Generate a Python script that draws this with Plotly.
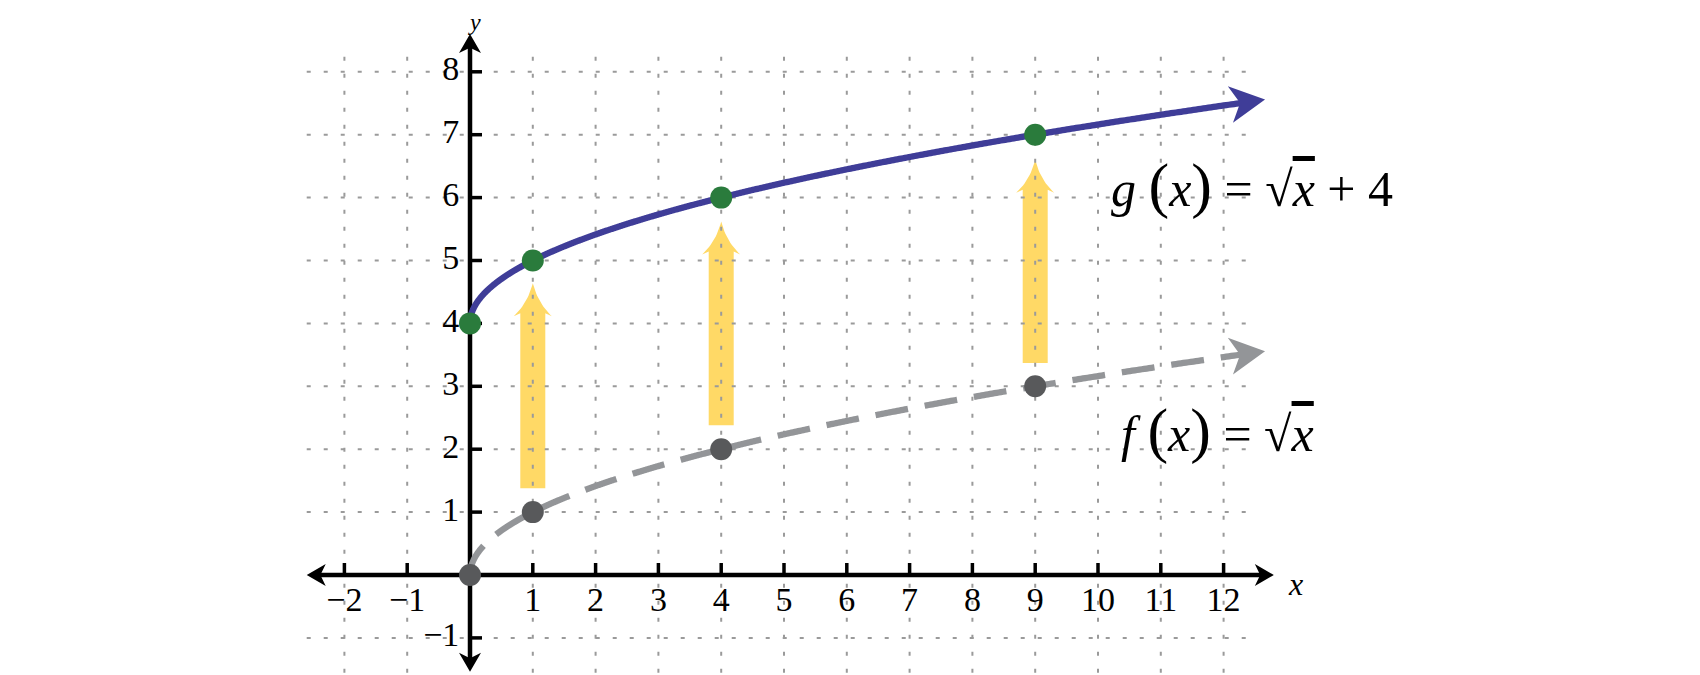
import numpy as np
import plotly.graph_objects as go

# ---------------- data ----------------
point_x = [0, 1, 4, 9]
f_vals = [0, 1, 2, 3]          # f(x) = sqrt(x)
g_vals = [4, 5, 6, 7]          # g(x) = sqrt(x) + 4
shift_k = 4
arrow_x = [1, 4, 9]
arrow_from = [1.38, 2.38, 3.37]
arrow_to = [4.64, 5.62, 6.60]
x_ticks = [-2, -1, 1, 2, 3, 4, 5, 6, 7, 8, 9, 10, 11, 12]
x_tick_text = ["\u22122", "\u22121", "1", "2", "3", "4", "5", "6", "7", "8", "9", "10", "11", "12"]
y_ticks = [-1, 1, 2, 3, 4, 5, 6, 7, 8]
y_tick_text = ["\u22121", "1", "2", "3", "4", "5", "6", "7", "8"]
grid_x = [-2, -1, 1, 2, 3, 4, 5, 6, 7, 8, 9, 10, 11, 12]
grid_y = [-1, 1, 2, 3, 4, 5, 6, 7, 8]
curve_end = 12.66
x_axis_span = [-2.6, 12.8]
y_axis_span = [-1.54, 8.6]
grid_x_span = [-2.6, 12.55]
grid_y_span = [-1.7, 8.24]

# ---------------- geometry ----------------
W, H = 1700, 675
OFF = 8  # default page margin of the html body
X0PX, Y0PX = 470 - OFF, 575 - OFF
SX, SY = 62.8, 62.9
xr = [-X0PX / SX, (W - X0PX) / SX]
yr = [-(H - Y0PX) / SY, Y0PX / SY]

def px(x, y):
    return np.array([X0PX + SX * x, Y0PX - SY * y])

def dat(p):
    return (p[0] - X0PX) / SX, (Y0PX - p[1]) / SY

def poly(points):
    xs, ys = [], []
    for p in points:
        a, b = dat(p)
        xs.append(a); ys.append(b)
    xs.append(xs[0]); ys.append(ys[0])
    return xs, ys

def head_pts(T, u, L, Wd, notch):
    n = np.array([-u[1], u[0]])
    return [T, T - L * u + Wd / 2 * n, T - notch * L * u, T - L * u - Wd / 2 * n]

def f(x):
    return np.sqrt(x)

def g(x):
    return np.sqrt(x) + shift_k

FONT = "Liberation Serif, serif"
fig = go.Figure()

# yellow arrows (under grid)
def qbez(p0, c, p1, n=16):
    t = np.linspace(0, 1, n)[:, None]
    return list((1 - t) ** 2 * p0 + 2 * (1 - t) * t * c + t ** 2 * p1)

for ax_, a0, a1 in zip(arrow_x, arrow_from, arrow_to):
    B = px(ax_, a0); T = px(ax_, a1)
    hs, hh, hl = 12.5, 19.0, 33.0
    pts = [np.array([T[0] - hs, B[1]]), np.array([T[0] - hs, T[1] + hl - 3]),
           np.array([T[0] - hh, T[1] + hl])]
    pts += qbez(np.array([T[0] - hh, T[1] + hl]), np.array([T[0] - 5, T[1] + 20]), T)[1:]
    pts += qbez(T, np.array([T[0] + 5, T[1] + 20]), np.array([T[0] + hh, T[1] + hl]))[1:]
    pts += [np.array([T[0] + hs, T[1] + hl - 3]), np.array([T[0] + hs, B[1]])]
    xs, ys = poly(pts)
    fig.add_trace(go.Scatter(x=xs, y=ys, mode="lines", fill="toself", fillcolor="#FFD966",
                             line=dict(width=0, color="#FFD966"), hoverinfo="skip", showlegend=False))

# grid
gx, gy = [], []
for v in grid_y:
    gx += [grid_x_span[0], grid_x_span[1], None]; gy += [v, v, None]
for v in grid_x:
    gx += [v, v, None]; gy += [grid_y_span[1], grid_y_span[0], None]
fig.add_trace(go.Scatter(x=gx, y=gy, mode="lines",
                         line=dict(color="#9A9A9A", width=2, dash="4px,13px"),
                         hoverinfo="skip", showlegend=False))

# axes
fig.add_trace(go.Scatter(x=[x_axis_span[0] + 0.15, x_axis_span[1] - 0.15, None, 0, 0],
                         y=[0, 0, None, y_axis_span[0] + 0.15, y_axis_span[1] - 0.15],
                         mode="lines", line=dict(color="black", width=4.5),
                         hoverinfo="skip", showlegend=False))
tx_, ty_ = [], []
for t in x_ticks:
    tx_ += [t, t, None]; ty_ += [0, 12 / SY, None]
for t in y_ticks:
    tx_ += [0, 12 / SX, None]; ty_ += [t, t, None]
fig.add_trace(go.Scatter(x=tx_, y=ty_, mode="lines", line=dict(color="black", width=3.5),
                         hoverinfo="skip", showlegend=False))
for T, u in [(px(x_axis_span[0], 0), np.array([-1.0, 0])), (px(x_axis_span[1], 0), np.array([1.0, 0])),
             (px(0, y_axis_span[1]), np.array([0, -1.0])), (px(0, y_axis_span[0]), np.array([0, 1.0]))]:
    xs, ys = poly(head_pts(T, u, 19, 22, 0.72))
    fig.add_trace(go.Scatter(x=xs, y=ys, mode="lines", fill="toself", fillcolor="black",
                             line=dict(width=0, color="black"), hoverinfo="skip", showlegend=False))

# curves with arrowheads
def curve(fn, color, dash, L=35, Wd=37):
    h = 1e-3
    T = px(curve_end, fn(curve_end))
    d = T - px(curve_end - h, fn(curve_end - h))
    u = d / np.linalg.norm(d)
    x_end = curve_end - 0.6 * L * u[0] / SX
    xs = np.linspace(0, np.sqrt(x_end), 600) ** 2
    fig.add_trace(go.Scatter(x=xs, y=fn(xs), mode="lines",
                             line=dict(color=color, width=6.3, dash=dash, simplify=False),
                             hoverinfo="skip", showlegend=False))
    hx, hy = poly(head_pts(T, u, L, Wd, 0.72))
    fig.add_trace(go.Scatter(x=hx, y=hy, mode="lines", fill="toself", fillcolor=color,
                             line=dict(width=0, color=color), hoverinfo="skip", showlegend=False))

curve(f, "#939598", "33px,17px")
curve(g, "#3F3D98", "solid")

# points
fig.add_trace(go.Scatter(x=point_x, y=f_vals, mode="markers",
                         marker=dict(size=22, color="#58595B"), hoverinfo="skip", showlegend=False))
fig.add_trace(go.Scatter(x=point_x, y=g_vals, mode="markers",
                         marker=dict(size=22, color="#2A7B3C"), hoverinfo="skip", showlegend=False))

# tick labels
fig.add_trace(go.Scatter(x=x_ticks, y=[-0.445] * len(x_ticks), mode="text", text=x_tick_text,
                         textposition="middle center",
                         textfont=dict(family=FONT, size=34, color="black"),
                         hoverinfo="skip", showlegend=False))
fig.add_trace(go.Scatter(x=[-0.17] * len(y_ticks), y=y_ticks, mode="text", text=y_tick_text,
                         textposition="middle left",
                         textfont=dict(family=FONT, size=34, color="black"),
                         hoverinfo="skip", showlegend=False))

# axis titles
fig.add_annotation(x=13.15, y=-0.14, text="<i>x</i>", showarrow=False,
                   font=dict(family=FONT, size=32, color="black"))
fig.add_annotation(x=0.07, y=1, yref="paper", yanchor="top", borderpad=0, text="<i>y</i>",
                   showarrow=False, font=dict(family=FONT, size=24, color="black"))

# formula labels
P = "<span style='font-size:62px'>%s</span>"
fig.add_annotation(x=12.45, y=6.2,
                   text="<i>g</i> " + P % "(" + "<i>x</i>" + P % ")" + " = √<span style='text-decoration:overline'><i>x</i></span> + 4",
                   showarrow=False, font=dict(family=FONT, size=50, color="black"))
fig.add_annotation(x=11.9, y=2.3,
                   text="<i>f</i> " + P % "(" + "<i>x</i>" + P % ")" + " = √<span style='text-decoration:overline'><i>x</i></span>",
                   showarrow=False, font=dict(family=FONT, size=50, color="black"))

fig.update_layout(
    width=W, height=H, margin=dict(l=0, r=0, t=0, b=0),
    paper_bgcolor="white", plot_bgcolor="white",
    xaxis=dict(range=xr, visible=False, fixedrange=True),
    yaxis=dict(range=yr, visible=False, fixedrange=True),
)
fig.write_html("out.html")
